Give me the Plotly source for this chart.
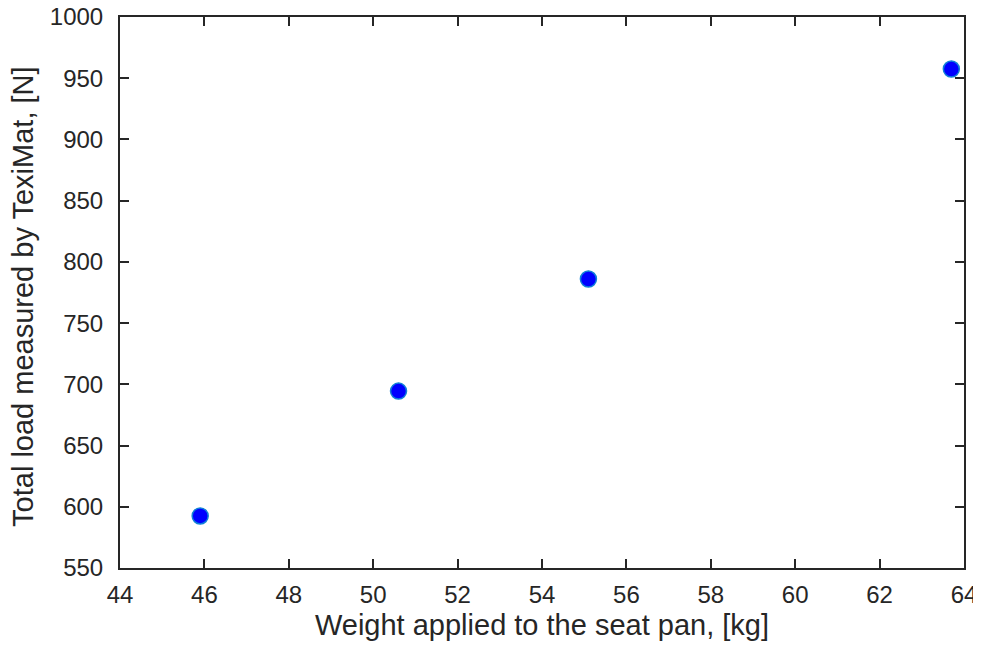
import plotly.graph_objects as go

weight_kg = [45.9, 50.6, 55.1, 63.7]
load_N = [592.5, 694.5, 786, 957.5]

x_title = "Weight applied to the seat pan, [kg]"
y_title = "Total load measured by TexiMat, [N]"

FONT = "Liberation Sans, Arial, sans-serif"
INK = "#262626"

fig = go.Figure()
fig.add_trace(go.Scatter(
    x=weight_kg, y=load_N, mode="markers",
    marker=dict(size=16, color="#0000FF", line=dict(color="#1080D8", width=1.5)),
    showlegend=False,
))

axis_common = dict(
    showline=True, linecolor=INK, linewidth=2, mirror="ticks",
    ticks="inside", ticklen=9, tickwidth=1.5, tickcolor=INK,
    showgrid=False, zeroline=False, automargin=False,
    ticklabeloverflow="allow",
    tickfont=dict(family=FONT, size=24, color=INK),
)

fig.update_layout(
    width=973, height=637,
    margin=dict(l=112, r=17, t=9, b=77),
    plot_bgcolor="white", paper_bgcolor="white",
    xaxis=dict(range=[44, 64], dtick=2, tick0=44, ticklabelstandoff=4,
               title=dict(text=x_title,
                          font=dict(family=FONT, size=29, color=INK),
                          standoff=8),
               **axis_common),
    yaxis=dict(range=[550, 1000], dtick=50, tick0=550, ticklabelstandoff=10,
               **axis_common),
)

fig.add_annotation(
    text=y_title, textangle=-90, showarrow=False,
    xref="paper", yref="paper", x=0, y=0.492,
    xanchor="center", yanchor="middle", xshift=-97,
    font=dict(family=FONT, size=29, color=INK),
)

fig.write_html("out.html")
